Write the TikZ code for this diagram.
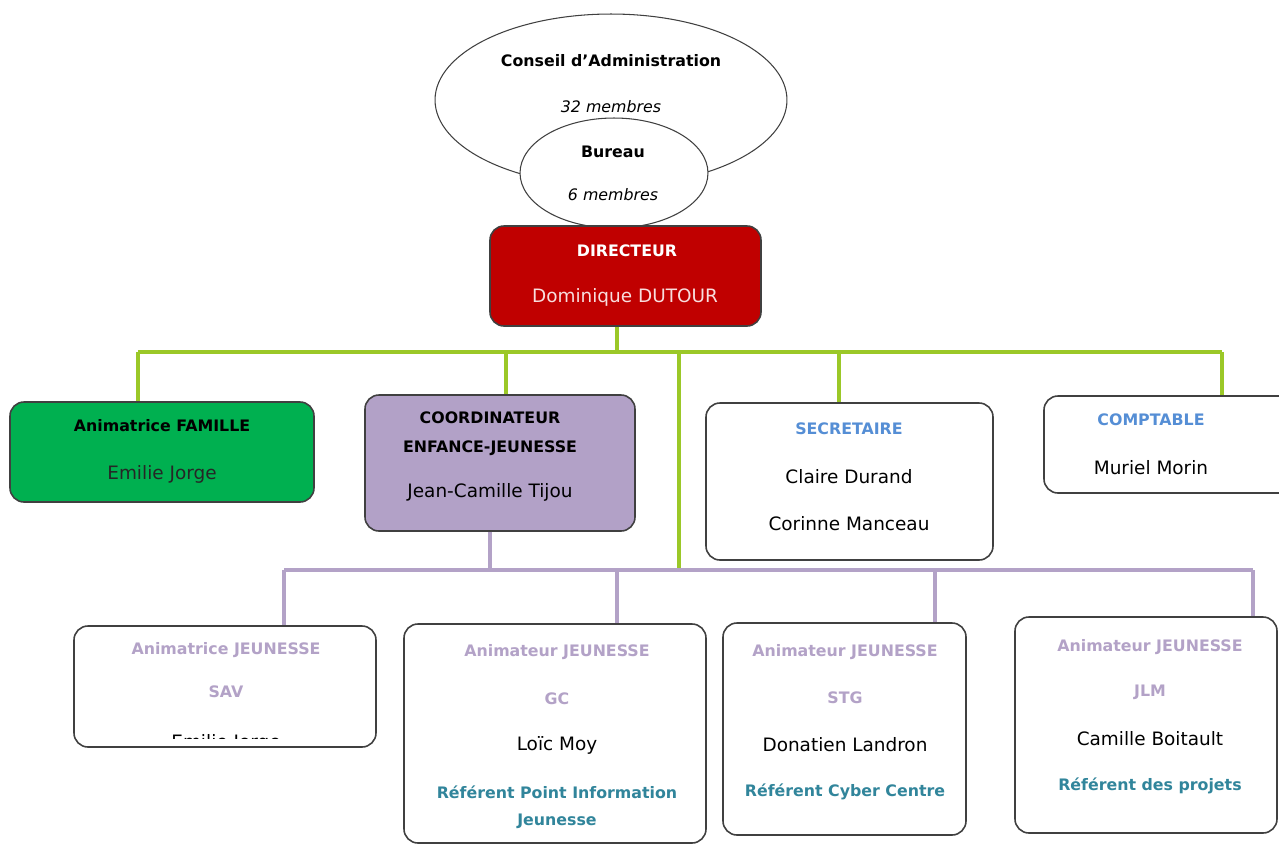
\documentclass[tikz,border=0pt]{standalone}
\usepackage{fontspec}
\setmainfont{DejaVu Sans}
\usetikzlibrary{fit,positioning,shapes.geometric}

\definecolor{dirred}{RGB}{192,0,0}
\definecolor{famgreen}{RGB}{0,176,80}
\definecolor{coordlila}{RGB}{178,161,199}
\definecolor{linkgreen}{RGB}{155,200,40}
\definecolor{linklila}{RGB}{179,162,199}
\definecolor{titleblue}{RGB}{85,142,213}
\definecolor{refteal}{RGB}{49,133,155}
\definecolor{dirpink}{RGB}{248,222,222}

\begin{document}
\begin{tikzpicture}[
                x=0.02cm, y=-0.02cm,
                every node/.style={align=center},
                box/.style={draw=black!75, line width=0.9pt, rounded corners=0.28cm, inner sep=0pt},
                oval/.style={draw=black!75, line width=0.6pt, ellipse, inner sep=0pt},
                roletxt/.style={font=\fontsize{9}{11}\selectfont\bfseries},
                bigrole/.style={font=\fontsize{9}{11}\selectfont\bfseries},
                person/.style={font=\fontsize{10.5}{13}\selectfont},
                membres/.style={font=\fontsize{9}{11}\selectfont\itshape},
                greenlink/.style={draw=linkgreen, line width=2pt},
                lilalink/.style={draw=linklila, line width=2pt}
            ]
            \useasboundingbox (0,0) rectangle (1279,846);

            % conseil and bureau
            \node[oval, minimum width=7.04cm, minimum height=3.44cm] (ca) at (611,100) {};
            \node[oval, fill=white, minimum width=3.76cm, minimum height=2.2cm] (bur) at (614,173) {};
            \node[bigrole] (caT) at (611,61) {Conseil d'Administration};
            \node[membres] (caN) at (611,107) {32 membres};
            \node[bigrole] (burT) at (613,152) {Bureau};
            \node[membres] (burN) at (613,195) {6 membres};

            % directeur
            \node[box, fill=dirred, fit={(490,226) (761,326)}] (dir) {};
            \node[roletxt, text=white] (dirT) at (627,251) {DIRECTEUR};
            \node[person, text=dirpink] (dirN) at (625,297) {Dominique DUTOUR};

            % second row
            \node[box, fill=famgreen, fit={(10,402) (314,502)}] (fam) {};
            \node[roletxt] (famT) at (162,426) {Animatrice FAMILLE};
            \node[person, text=black!85] (famN) at (162,474) {Emilie Jorge};

            \node[box, fill=coordlila, fit={(365,395) (635,531)}] (coord) {};
            \node[roletxt] (coordT1) at (490,418) {COORDINATEUR};
            \node[roletxt] (coordT2) at (490,448) {ENFANCE-JEUNESSE};
            \node[person] (coordN) at (490,492) {Jean-Camille Tijou};

            \node[box, fill=white, fit={(706,403) (993,560)}] (sec) {};
            \node[roletxt, text=titleblue] (secT) at (849,429) {SECRETAIRE};
            \node[person] (secN1) at (849,477) {Claire Durand};
            \node[person] (secN2) at (849,524) {Corinne Manceau};

            \node[box, fill=white, fit={(1044,396) (1300,493)}] (cpt) {};
            \node[roletxt, text=titleblue] (cptT) at (1151,420) {COMPTABLE};
            \node[person] (cptN) at (1151,468) {Muriel Morin};

            % links from the directeur
            \coordinate (gtop) at (617,352);
            \coordinate (gl) at (138,352);
            \coordinate (gr) at (1222,352);
            \draw[greenlink] (dir.south -| gtop) -- (gtop);
            \draw[greenlink] (gl) -- (gr);
            \foreach \x/\n in {138/fam, 506/coord, 839/sec, 1222/cpt}{
                \coordinate (g\n) at (\x,352);
                \draw[greenlink] (g\n) -- (g\n |- \n.north);
            }

            % third row
            \node[box, fill=white, fit={(74,626) (376,747)}] (sav) {};
            \node[roletxt, text=linklila] (savT) at (226,650) {Animatrice JEUNESSE};
            \node[roletxt, text=linklila] (savS) at (226,692) {SAV};
            \begin{scope}
                \clip (74,700) rectangle (376,738);
                \node[person, inner sep=0pt, anchor=base] (savN) at (226,748) {Emilie Jorge};
            \end{scope}

            \node[box, fill=white, fit={(404,624) (706,843)}] (gc) {};
            \node[roletxt, text=linklila] (gcT) at (557,652) {Animateur JEUNESSE};
            \node[roletxt, text=linklila] (gcS) at (557,699) {GC};
            \node[person] (gcN) at (557,745) {Loïc Moy};
            \node[roletxt, text=refteal] (gcR1) at (557,792) {Référent Point Information};
            \node[roletxt, text=refteal] (gcR2) at (557,821) {Jeunesse};

            \node[box, fill=white, fit={(723,623) (966,835)}] (stg) {};
            \node[roletxt, text=linklila] (stgT) at (845,652) {Animateur JEUNESSE};
            \node[roletxt, text=linklila] (stgS) at (845,698) {STG};
            \node[person] (stgN) at (845,745) {Donatien Landron};
            \node[roletxt, text=refteal] (stgR) at (845,792) {Référent Cyber Centre};

            \node[box, fill=white, fit={(1015,617) (1277,833)}] (jlm) {};
            \node[roletxt, text=linklila] (jlmT) at (1150,647) {Animateur JEUNESSE};
            \node[roletxt, text=linklila] (jlmS) at (1150,692) {JLM};
            \node[person] (jlmN) at (1150,739) {Camille Boitault};
            \node[roletxt, text=refteal] (jlmR) at (1150,786) {Référent des projets};

            % links from the coordinateur
            \coordinate (lc) at (490,570);
            \coordinate (ll) at (284,570);
            \coordinate (lr) at (1253,570);
            \coordinate (gmid) at (679,352);
            \draw[greenlink] (gmid) -- (gmid |- lc);
            \draw[lilalink] (lc |- coord.south) -- (lc);
            \draw[lilalink] (ll) -- (lr);
            \foreach \x/\n in {284/sav, 617/gc, 935/stg, 1253/jlm}{
                \coordinate (l\n) at (\x,570);
                \draw[lilalink] (l\n) -- (l\n |- \n.north);
            }
        \end{tikzpicture}
\end{document}
